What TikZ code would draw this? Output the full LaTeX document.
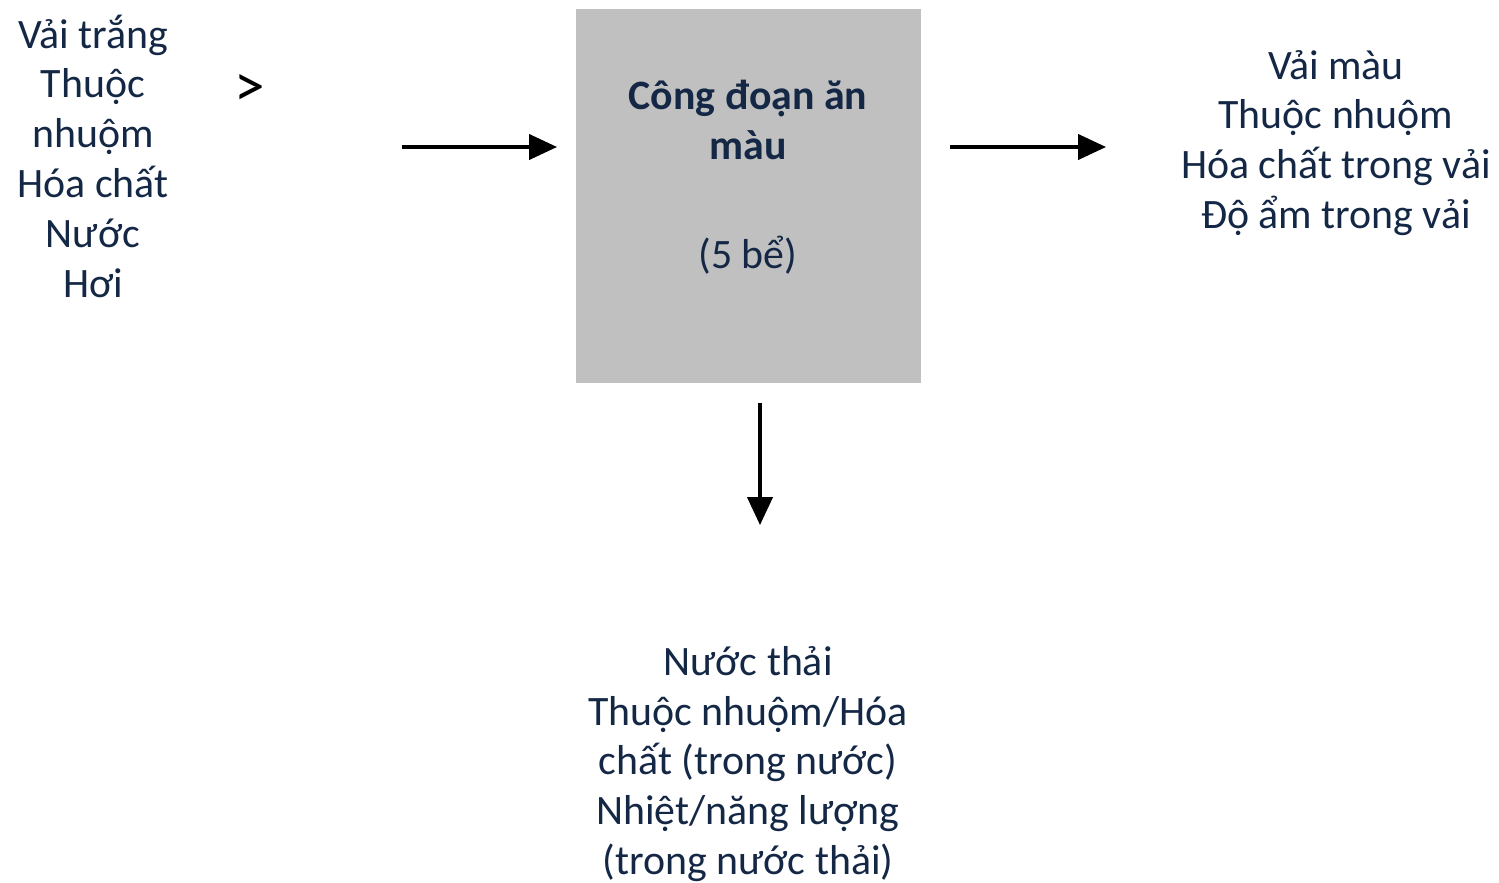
\documentclass[tikz,border=0pt]{standalone}
\usepackage{fontspec}
\setmainfont{Carlito}
\usetikzlibrary{arrows.meta, positioning}
\definecolor{textBlue}{RGB}{20,40,70}
\definecolor{stageGray}{RGB}{192,192,192}
\tikzstyle{label}=[align=center, text=textBlue, inner sep=0pt, font=\fontsize{31.5}{37.5}\selectfont]
\tikzstyle{stage}=[fill=stageGray, minimum width=259bp, minimum height=281bp, inner sep=0pt]
\tikzstyle{flow}=[line width=2.4bp, -{Triangle[length=21bp, width=19bp]}]

\begin{document}
\begin{tikzpicture}[x=0.75bp, y=-0.75bp]
    \useasboundingbox (0, 0) rectangle (1499, 882);

    \node (stage)[stage] at (748.5, 196) {};
    \node (title)[label, font=\bfseries\fontsize{31.5}{37.5}\selectfont] at (748, 120) {Công đoạn ăn\\màu};
    \node (tanks)[label] at (748, 255) {(5 bể)};

    \node (input)[label] at (93, 156) {Vải trắng\\Thuộc\\nhuộm\\Hóa chất\\Nước\\Hơi};
    \node (gt)[label, text=black, font=\fontsize{46}{46}\selectfont] at (250, 90) {>};
    \node (output)[label] at (1336, 143) {Vải màu\\Thuộc nhuộm\\Hóa chất trong vải\\Độ ẩm trong vải};
    \node (waste)[label] at (748, 764) {Nước thải\\Thuộc nhuộm/Hóa\\chất (trong nước)\\Nhiệt/năng lượng\\(trong nước thải)};

    \coordinate (inA) at (402, 147);
    \coordinate (inB) at (557, 147);
    \coordinate (outA) at (950, 147);
    \coordinate (outB) at (1106, 147);
    \coordinate (downA) at (760, 403);
    \coordinate (downB) at (760, 525);

    \draw[flow] (inA) -- (inB);
    \draw[flow] (outA) -- (outB);
    \draw[flow] (downA) -- (downB);

\end{tikzpicture}
\end{document}
